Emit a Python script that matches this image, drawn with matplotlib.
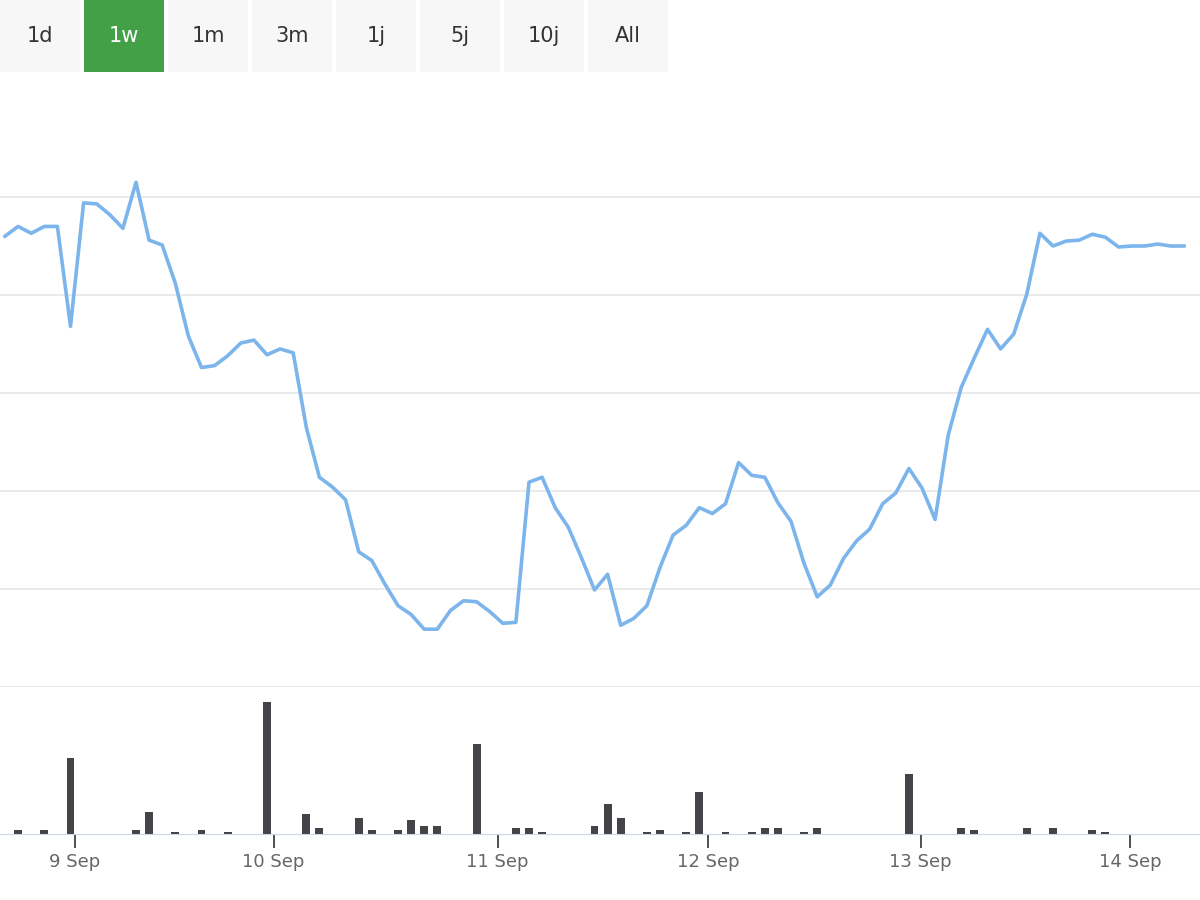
import matplotlib
matplotlib.use("Agg")
import matplotlib.pyplot as plt
from matplotlib.patches import Rectangle

buttons = ["1d", "1w", "1m", "3m", "1j", "5j", "10j", "All"]
selected = "1w"
price = [4.6,4.7,4.63,4.7,4.7,3.68,4.94,4.93,4.82,4.68,5.15,4.56,4.51,4.12,3.58,3.26,3.28,3.38,3.51,3.54,3.39,3.45,3.41,2.65,2.14,2.04,1.91,1.38,1.29,1.05,0.83,0.74,0.59,0.59,0.78,0.88,0.87,0.77,0.65,0.66,2.09,2.14,1.83,1.63,1.32,0.99,1.15,0.63,0.70,0.83,1.22,1.55,1.65,1.83,1.77,1.87,2.29,2.16,2.14,1.88,1.69,1.26,0.92,1.04,1.31,1.49,1.61,1.87,1.98,2.23,2.03,1.71,2.57,3.06,3.36,3.65,3.45,3.60,4.01,4.63,4.50,4.55,4.56,4.62,4.59,4.49,4.50,4.50,4.52,4.50,4.50]
volume = [0]*91
for i, v in {1:4,3:4,5:76,10:4,11:22,13:2,15:4,17:2,20:132,23:20,24:6,27:16,28:4,30:4,31:14,32:8,33:8,36:90,39:6,40:6,41:2,45:8,46:30,47:16,49:2,50:4,52:2,53:42,55:2,57:2,58:6,59:6,61:2,62:6,69:60,73:6,74:4,78:6,80:6,83:4,84:2}.items():
    volume[i] = v
tick_labels = ["9 Sep", "10 Sep", "11 Sep", "12 Sep", "13 Sep", "14 Sep"]
tick_pos = [5.34, 20.5, 37.6, 53.7, 69.9, 85.9]

fig = plt.figure(figsize=(12, 9), dpi=100)
x = list(range(len(price)))
xl = (-5/13.1, 1195/13.1)

ax = fig.add_axes([0, 213/900, 1, 587/900])
ax.plot(x, price, color="#7cb5ec", lw=2.6)
ax.set_xlim(*xl); ax.set_ylim(0, 5.99)
for k in range(7):
    ax.axhline(k, color="#e6e6e6", lw=1.2, zorder=0)
ax.axis("off")

av = fig.add_axes([0, 66/900, 1, 147/900])
av.bar(x, volume, width=0.6, color="#434348")
av.set_xlim(*xl); av.set_ylim(0, 147)
for s in ["top", "left", "right"]:
    av.spines[s].set_visible(False)
av.spines["bottom"].set_color("#ccd6eb")
av.set_yticks([])
av.set_xticks(tick_pos)
av.set_xticklabels(tick_labels, color="#666666", fontsize=13)
av.tick_params(axis="x", length=10, width=1.2, color="#333333", pad=4)

for i, b in enumerate(buttons):
    x0 = i*84/1200
    sel = b == selected
    fig.patches.append(Rectangle((x0, 828/900), 80/1200, 72/900, transform=fig.transFigure,
                                 facecolor="#43a047" if sel else "#f7f7f7", edgecolor="none"))
    fig.text(x0+40/1200, 864/900, b, ha="center", va="center", fontsize=15,
             color="white" if sel else "#333333")

fig.savefig("out.png")
